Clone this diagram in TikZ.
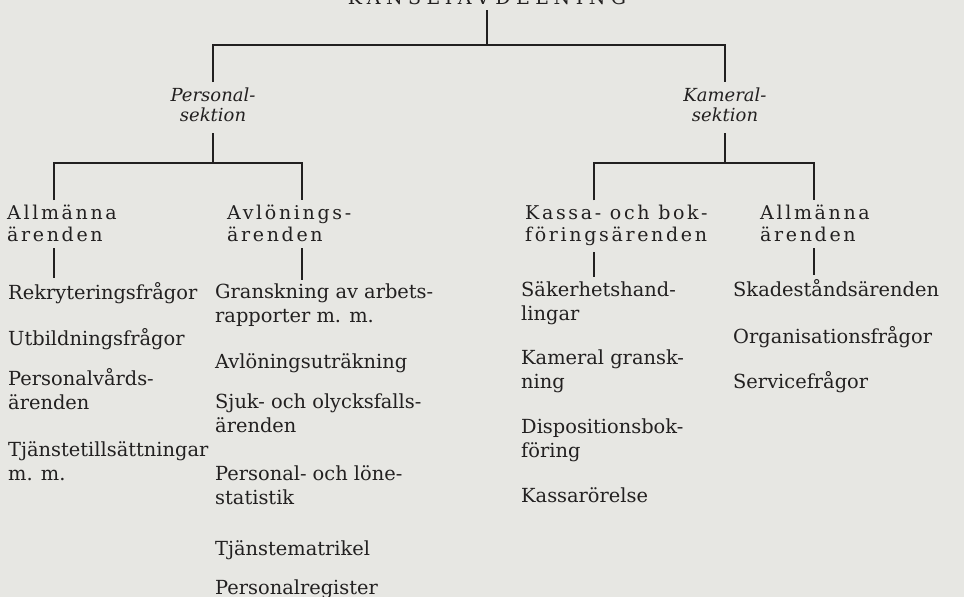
\documentclass[tikz,border=0pt]{standalone}
\usepackage{fontspec}
\setmainfont{DejaVu Serif}
\newfontfamily\spacedfont[LetterSpace=14]{DejaVu Serif}
\newfontfamily\titlefont[LetterSpace=29]{DejaVu Serif}
\usetikzlibrary{positioning}
\definecolor{paper}{RGB}{231,231,227}
\definecolor{ink}{RGB}{34,32,32}

\begin{document}
\begin{tikzpicture}[x=1pt, y=-1pt]
\tikzstyle{tree} = [draw=ink, line width=1.4pt]
\tikzstyle{section} = [inner sep=0pt, align=center, anchor=base, text=ink, font=\fontsize{18}{20}\selectfont\itshape]
\tikzstyle{heading} = [inner sep=0pt, align=left, anchor=base west, text=ink, font=\fontsize{19}{22}\selectfont\spacedfont]
\tikzstyle{item} = [inner sep=0pt, align=left, anchor=base west, text=ink, font=\fontsize{19.4}{23.5}\selectfont]
\fill[paper] (0,0) rectangle (964,597);
\useasboundingbox (0,0) rectangle (964,597);

% top level (base anchor = last line)
\node (T)  [text=ink, inner sep=0pt, anchor=base, font=\fontsize{19}{22}\selectfont\titlefont] at (487,5) {KANSLIAVDELNING};
\node (PS) [section] at (213,121) {Personal-\\sektion};
\node (KS) [section] at (725,121) {Kameral-\\sektion};

% headings
\node (PA) [heading] at (7,241)   {Allmänna\\ärenden};
\node (PB) [heading] at (227,241) {Avlönings-\\ärenden};
\node (KA) [heading] at (525,241) {Kassa- och bok-\\föringsärenden};
\node (KB) [heading] at (760,241) {Allmänna\\ärenden};

% Personalsektion, allmänna ärenden
\node (PA1) [item] at (8,299) {Rekryteringsfrågor};
\node (PA2) [item] at (8,345) {Utbildningsfrågor};
\node (PA3) [item] at (8,409) {Personalvårds-\\ärenden};
\node (PA4) [item] at (8,480) {Tjänstetillsättningar\\m. m.};

% Personalsektion, avlöningsärenden
\node (PB1) [item] at (215,322) {Granskning av arbets-\\rapporter m. m.};
\node (PB2) [item] at (215,368) {Avlöningsuträkning};
\node (PB3) [item] at (215,432) {Sjuk- och olycksfalls-\\ärenden};
\node (PB4) [item] at (215,504) {Personal- och löne-\\statistik};
\node (PB5) [item] at (215,555) {Tjänstematrikel};
\node (PB6) [item] at (215,594) {Personalregister};

% Kameralsektion
\node (KA1) [item] at (521,320) {Säkerhetshand-\\lingar};
\node (KA2) [item] at (521,388) {Kameral gransk-\\ning};
\node (KA3) [item] at (521,457) {Dispositionsbok-\\föring};
\node (KA4) [item] at (521,502) {Kassarörelse};
\node (KB1) [item] at (733,296) {Skadeståndsärenden};
\node (KB2) [item] at (733,343) {Organisationsfrågor};
\node (KB3) [item] at (733,388) {Servicefrågor};

% branches
\coordinate (bar) at (487,45);
\coordinate (pa) at (54,163);
\coordinate (pb) at (302,163);
\coordinate (ka) at (594,163);
\coordinate (kb) at (814,163);

\draw[tree] ([yshift=-5pt]T.south) -- (bar);
\draw[tree] ([yshift=5pt]PS.north) |- (bar) -| ([yshift=5pt]KS.north);
\draw[tree] ([yshift=-12pt]PS.south) -- (PS.south |- pa);
\draw[tree] ([yshift=-12pt]KS.south) -- (KS.south |- ka);
\draw[tree] ([yshift=4pt]PA.north -| pa) -- (pa) -- (pb) -- ([yshift=4pt]PB.north -| pb);
\draw[tree] ([yshift=4pt]KA.north -| ka) -- (ka) -- (kb) -- ([yshift=4pt]KB.north -| kb);
\draw[tree] ([yshift=-7pt]PA.south -| pa) -- ([yshift=4pt]PA1.north -| pa);
\draw[tree] ([yshift=-7pt]PB.south -| pb) -- ([yshift=4pt]PB1.north -| pb);
\draw[tree] ([yshift=-7pt]KA.south -| ka) -- ([yshift=4pt]KA1.north -| ka);
\draw[tree] ([yshift=-7pt]KB.south -| kb) -- ([yshift=4pt]KB1.north -| kb);

\end{tikzpicture}
\end{document}
